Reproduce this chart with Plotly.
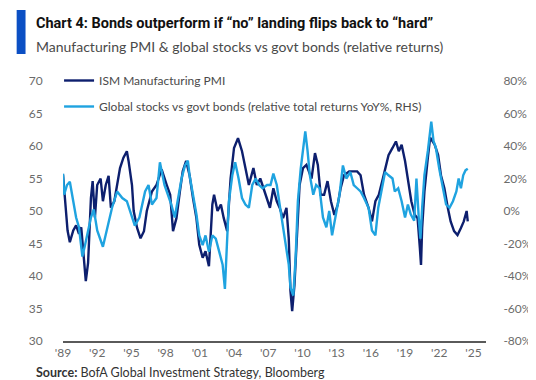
import plotly.graph_objects as go

# ---- data ----
pmi_years = [1989.0, 1989.2, 1989.4, 1989.6, 1989.9, 1990.15, 1990.4, 1990.6, 1990.8, 1991.0,
             1991.2, 1991.45, 1991.6, 1991.8, 1992.0, 1992.3, 1992.5, 1992.75, 1993.0, 1993.2,
             1993.5, 1993.75, 1994.0, 1994.3, 1994.6, 1994.75, 1995.05, 1995.2, 1995.5, 1995.8,
             1996.1, 1996.35, 1996.8, 1997.2, 1997.65, 1998.1, 1998.4, 1998.65, 1998.95, 1999.25,
             1999.5, 1999.8, 2000.1, 2000.4, 2000.7, 2000.95, 2001.25, 2001.5, 2001.8, 2002.1,
             2002.25, 2002.55, 2002.85, 2003.1, 2003.4, 2003.7, 2004.0, 2004.35, 2004.7, 2005.0,
             2005.3, 2005.7, 2006.0, 2006.3, 2006.9, 2007.15, 2007.45, 2007.75, 2008.0, 2008.3,
             2008.6, 2008.8, 2008.95, 2009.1, 2009.3, 2009.55, 2009.75, 2010.05, 2010.35, 2010.8,
             2011.1, 2011.35, 2011.6, 2011.9, 2012.2, 2012.5, 2012.8, 2013.1, 2013.35, 2013.65,
             2014.1, 2014.35, 2014.8, 2015.1, 2015.4, 2015.8, 2016.1, 2016.4, 2016.7, 2017.0,
             2017.25, 2017.55, 2017.9, 2018.2, 2018.45, 2018.7, 2019.0, 2019.3, 2019.55, 2019.85,
             2020.1, 2020.3, 2020.4, 2020.5, 2020.7, 2021.0, 2021.2, 2021.6, 2021.9, 2022.15,
             2022.45, 2022.75, 2023.0, 2023.3, 2023.6, 2023.9, 2024.15, 2024.4, 2024.5]
pmi_values = [55.6, 51.0, 47.0, 45.2, 47.0, 47.8, 46.5, 47.5, 43.0, 39.2,
              42.0, 52.0, 54.6, 49.0, 54.0, 55.0, 51.5, 54.0, 55.4, 50.5,
              51.5, 54.0, 56.6, 58.2, 59.2, 57.7, 54.0, 50.0, 47.4, 45.8,
              46.9, 50.0, 53.0, 54.0, 56.4, 54.0, 52.5, 46.9, 48.9, 53.0,
              56.1, 57.7, 55.5, 52.0, 48.9, 44.8, 42.8, 43.8, 41.5, 51.0,
              52.5, 50.0, 51.0, 48.9, 46.9, 55.0, 59.7, 61.2, 59.2, 56.6,
              54.0, 56.6, 54.0, 55.0, 52.0, 50.5, 53.5, 51.5, 50.5, 48.9,
              50.5, 45.8, 37.7, 34.6, 38.6, 46.3, 54.0, 56.6, 57.1, 55.0,
              58.9, 57.1, 52.5, 52.5, 54.6, 51.5, 49.4, 51.0, 53.5, 55.5,
              56.1, 56.1, 56.1, 55.5, 52.5, 50.5, 48.4, 51.5, 52.5, 54.6,
              56.6, 58.6, 59.7, 60.7, 59.2, 60.2, 57.7, 54.6, 51.5, 49.4,
              48.9, 44.3, 41.7, 47.4, 53.0, 58.2, 61.3, 60.2, 58.6, 55.5,
              53.5, 50.5, 48.4, 46.9, 46.3, 47.4, 48.4, 50.0, 48.4]

rel_years = [1989.0, 1989.1, 1989.35, 1989.6, 1989.9, 1990.15, 1990.4, 1990.7, 1990.9, 1991.2,
             1991.45, 1991.7, 1992.0, 1992.5, 1992.9, 1993.3, 1993.75, 1994.2, 1994.6, 1995.05,
             1995.3, 1995.7, 1996.2, 1996.5, 1996.8, 1997.2, 1997.5, 1997.9, 1998.1, 1998.5,
             1998.8, 1999.1, 1999.4, 1999.7, 1999.95, 2000.1, 2000.4, 2000.7, 2000.95, 2001.25,
             2001.5, 2001.8, 2002.1, 2002.4, 2002.7, 2003.0, 2003.2, 2003.4, 2003.55, 2003.85,
             2004.1, 2004.4, 2004.7, 2005.0, 2005.3, 2005.6, 2005.9, 2006.2, 2006.5, 2006.9,
             2007.2, 2007.45, 2007.75, 2008.0, 2008.3, 2008.6, 2008.8, 2008.95, 2009.2, 2009.4,
             2009.6, 2009.85, 2010.05, 2010.25, 2010.45, 2010.65, 2010.95, 2011.2, 2011.5, 2011.8,
             2012.1, 2012.35, 2012.6, 2012.9, 2013.25, 2013.55, 2013.85, 2014.2, 2014.5, 2014.8,
             2015.1, 2015.4, 2015.8, 2016.1, 2016.4, 2016.65, 2017.0, 2017.25, 2017.55, 2017.9,
             2018.1, 2018.4, 2018.7, 2019.0, 2019.25, 2019.5, 2019.8, 2020.0, 2020.2, 2020.35,
             2020.5, 2020.7, 2021.0, 2021.3, 2021.5, 2021.7, 2022.0, 2022.3, 2022.6, 2022.9,
             2023.2, 2023.5, 2023.7, 2023.9, 2024.1, 2024.3, 2024.5]
rel_values = [23, 10, 16, 18, 6, -4, -10, -28, -22, -12,
              -4, 1, -12, -22, -10, 2, 12, 8, 6, -4,
              -9, -4, 12, 16, 4, 8, 30, 16, 12, 4,
              -4, 8, 20, 28, 31, 22, 10, -2, -15, -21,
              -15, -25, -15, -17, -25, -33, -48, -15, 6, 22,
              30, 20, 8, 4, 2, 16, 20, 16, 14, 16,
              16, 23, 16, 4, -10, -25, -33, -47, -52, -29,
              6, 26, 37, 49, 37, 22, 10, 16, 14, -4,
              -10, 0, -15, -4, 10, 28, 20, 24, 16, 14,
              12, 8, 2, -12, -15, 2, 16, 24, 22, 20,
              12, 14, 6, -4, 4, -2, -6, 20, -4, -17,
              2, 22, 37, 55, 43, 39, 26, 16, 4, 2,
              6, 12, 20, 14, 22, 25, 26]

x_tick_years = [1989, 1992, 1995, 1998, 2001, 2004, 2007, 2010, 2013, 2016, 2019, 2022, 2025]
x_tick_labels = ["'89", "'92", "'95", "'98", "'01", "'04", "'07", "'10", "'13", "'16", "'19", "'22", "'25"]
left_ticks = [30, 35, 40, 45, 50, 55, 60, 65, 70]
right_ticks = [-80, -60, -40, -20, 0, 20, 40, 60, 80]

DARK = "#0d1f6e"
LIGHT = "#1fa3e0"
W, H = 536, 380
L, R, T, B = 55, 52, 73, 47
PW, PH = W - L - R, H - T - B


def px_x(px):
    return (px - L) / PW


def px_y(py):
    return (H - B - py) / PH


fig = go.Figure()
fig.add_trace(go.Scatter(x=pmi_years, y=pmi_values, mode="lines", name="ISM Manufacturing PMI",
                         line=dict(color=DARK, width=2.4), legendgroup="a"))
fig.add_trace(go.Scatter(x=rel_years, y=rel_values, mode="lines", yaxis="y2",
                         name="Global stocks vs govt bonds (relative total returns YoY%, RHS)",
                         line=dict(color=LIGHT, width=2.4), legendgroup="b"))

tickfont = dict(family="Lato, Roboto, sans-serif", size=12, color="#6b6b6b")
fig.update_layout(
    width=W, height=H,
    margin=dict(l=L, r=R, t=T, b=B),
    paper_bgcolor="white", plot_bgcolor="white",
    showlegend=True,
    legend=dict(x=px_x(51), y=px_y(58), xanchor="left", yanchor="top",
                font=dict(family="Lato, Roboto, sans-serif", size=12, color="#4a4a4a"),
                itemwidth=30, tracegroupgap=7, traceorder="grouped",
                bgcolor="rgba(0,0,0,0)"),
    xaxis=dict(range=[1989, 2026.1], tickmode="array", tickvals=x_tick_years, ticktext=x_tick_labels,
               showgrid=False, zeroline=False, showline=True, linecolor="#5a5a5a", linewidth=2,
               ticks="", tickfont=tickfont),
    yaxis=dict(range=[30, 70], tickmode="array", tickvals=left_ticks, showgrid=False, zeroline=False,
               ticks="outside", ticklen=17, tickcolor="rgba(0,0,0,0)", tickfont=tickfont),
    yaxis2=dict(range=[-80, 80], tickmode="array", tickvals=right_ticks,
                ticktext=[f"{v}%" for v in right_ticks], overlaying="y", side="right",
                showgrid=False, zeroline=False, ticks="outside", ticklen=14,
                tickcolor="rgba(0,0,0,0)", tickfont=tickfont),
    shapes=[dict(type="rect", xref="paper", yref="paper", x0=px_x(8), x1=px_x(17),
                 y0=px_y(46), y1=px_y(2), fillcolor="#0b4fc4", line=dict(width=0))],
    annotations=[
        dict(text="<b>Chart 4: Bonds outperform if “no” landing flips back to “hard”</b>",
             xref="paper", yref="paper", x=px_x(26), y=px_y(16), xanchor="left", yanchor="middle",
             showarrow=False, font=dict(family="Roboto, sans-serif", size=14.5, color="#111111")),
        dict(text="Manufacturing PMI & global stocks vs govt bonds (relative returns)",
             xref="paper", yref="paper", x=px_x(26), y=px_y(38), xanchor="left", yanchor="middle",
             showarrow=False, font=dict(family="Lato, sans-serif", size=14, color="#4a4a4a")),
        dict(text="<b>Source:</b> BofA Global Investment Strategy, Bloomberg",
             xref="paper", yref="paper", x=px_x(26), y=px_y(364), xanchor="left", yanchor="middle",
             showarrow=False, font=dict(family="Lato, sans-serif", size=12.5, color="#333333")),
    ],
)

fig.write_html("out.html")
